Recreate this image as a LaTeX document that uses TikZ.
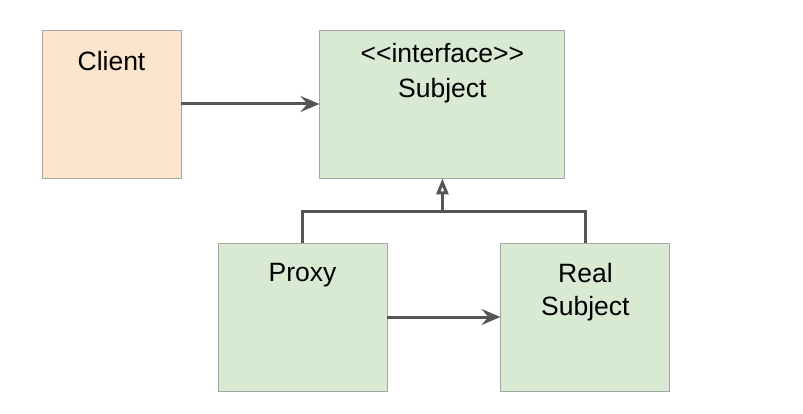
\documentclass[tikz,border=0pt]{standalone}
\usepackage{fontspec}
\setmainfont{Liberation Sans}
\usetikzlibrary{arrows.meta,positioning}
\definecolor{peach}{HTML}{FCE5CD}
\definecolor{mint}{HTML}{D9EAD3}
\definecolor{edge}{HTML}{A6A6A6}
\definecolor{wire}{HTML}{555555}

\begin{document}
\begin{tikzpicture}[
  x=1pt, y=-1pt,
  node distance = 138pt,
  cls/.style  = {rectangle, draw=edge, line width=0.9pt,
                 minimum height=148pt, inner sep=0pt},
  lbl/.style  = {anchor=north, inner sep=0pt, align=center,
                 font=\fontsize{26.5}{33}\selectfont},
  arr/.style  = {-{Stealth[length=19pt,width=16pt,inset=7pt]},
                 line width=3pt, draw=wire},
  inh/.style  = {-{Triangle[open,length=16pt,width=12pt]},
                 line width=3pt, draw=wire}
]
\useasboundingbox (0,0) rectangle (803,414);
\node[cls, fill=peach, minimum width=139pt] (client) at (111.5,104) {};
\node[cls, fill=mint,  minimum width=245pt, right=of client] (subject) {};
\node[cls, fill=mint,  minimum width=169pt] (proxy) at (302.5,317) {};
\node[cls, fill=mint,  minimum width=169pt, right=113pt of proxy] (real) {};
% class names
\node[lbl] (clientlbl)  at ([yshift=-21.5pt]client.north)  {Client};
\node[lbl] (subjectlbl) at ([yshift=-14pt]subject.north)   {<{}<interface>{}>\\[2pt] Subject};
\node[lbl] (proxylbl)   at ([yshift=-21pt]proxy.north)     {Proxy};
\node[lbl] (reallbl)    at ([yshift=-21pt]real.north)      {Real\\ Subject};
% connectors
\draw[arr] (client) -- (subject);
\draw[arr] (proxy)  -- (real);
\coordinate[below=33pt of subject.south] (bus);
\draw[wire, line width=3pt] (proxy.north) |- (bus) -| (real.north);
\draw[inh] (bus) -- (subject.south);
\end{tikzpicture}
\end{document}
